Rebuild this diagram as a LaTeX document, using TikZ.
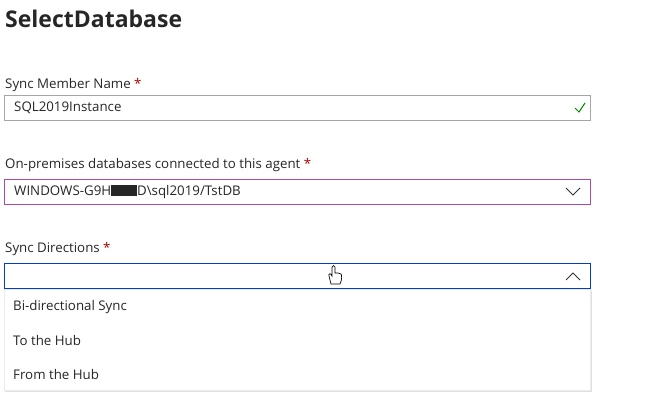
\documentclass[tikz,border=0pt]{standalone}
\usepackage{fontspec}
\setmainfont{Open Sans}
\begin{document}
\begin{tikzpicture}[x=1pt,y=-1pt,
  lbl/.style={anchor=west,inner sep=0pt,font=\fontsize{13.3}{15}\selectfont,text=black!85},
  field/.style={draw=gray!70,line width=0.8pt},
  itm/.style={anchor=west,inner sep=0pt,font=\fontsize{13.3}{15}\selectfont,text=black!85}]
\useasboundingbox (0,0) rectangle (653,413);
\node[anchor=west,inner sep=0pt,font=\fontsize{23}{27}\selectfont\bfseries,text=black!85] (title) at (5,19) {SelectDatabase};
% field 1
\node[lbl] (l1) at (5,85) {Sync Member Name \textcolor{red!70!black}{*}};
\draw[field] (4,95) rectangle (590,120);
\node[lbl] (v1) at (14,108) {SQL2019Instance};
\draw[green!55!black,line width=1pt] (575,108) -- (579,112) -- (585,103);
% field 2
\node[lbl] (l2) at (5,165) {On-premises databases connected to this agent \textcolor{red!70!black}{*}};
\draw[draw=violet!70!white,line width=0.9pt] (4,179) rectangle (590,204);
\node[lbl] (v2) at (14,192) {WINDOWS-G9H\rule[-1pt]{26pt}{11pt}D\textbackslash sql2019/TstDB};
\draw[black!80,line width=1pt] (566,188) -- (573,195) -- (580,188);
% field 3
\node[lbl] (l3) at (5,249) {Sync Directions \textcolor{red!70!black}{*}};
\draw[draw=blue!70!cyan!80!black,line width=1pt] (4,263) rectangle (590,288);
\draw[black!80,line width=1pt] (566,280) -- (573,273) -- (580,280);
% hand cursor
\draw[fill=white,line width=0.7pt] (331,284) -- (329,276) .. controls (328,273) and (331,273) .. (332,276) -- (332,267) .. controls (332,265) and (335,265) .. (335,267) -- (335,273) -- (338,273) -- (341,274) .. controls (342,275) and (342,280) .. (340,284) -- cycle;
% dropdown
\fill[black!12] (5,291) rectangle (592,392);
\draw[draw=black!8,fill=white] (4,289) rectangle (590,390);
\node[itm] (i1) at (13,307) {Bi-directional Sync};
\node[itm] (i2) at (13,341) {To the Hub};
\node[itm] (i3) at (13,375) {From the Hub};
\end{tikzpicture}
\end{document}
